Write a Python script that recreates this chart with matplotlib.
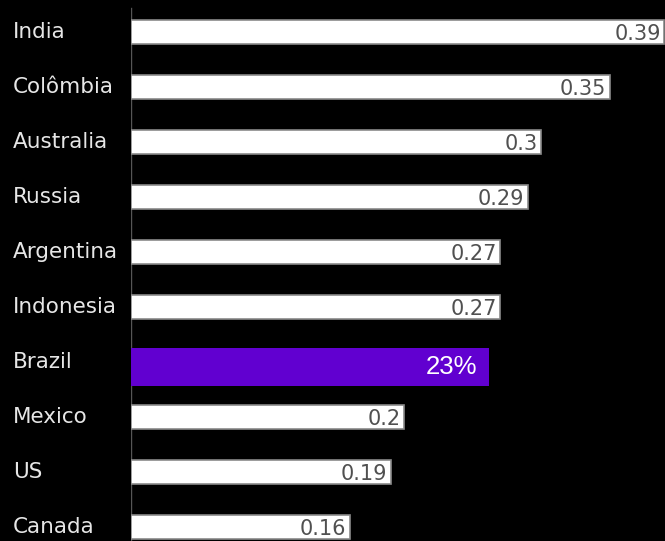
import matplotlib
matplotlib.use("Agg")
import matplotlib.pyplot as plt

countries = ["India", "Colômbia", "Australia", "Russia", "Argentina",
             "Indonesia", "Brazil", "Mexico", "US", "Canada"]
bar_len = [0.39, 0.35, 0.30, 0.29, 0.27, 0.27, 0.262, 0.20, 0.19, 0.16]
val_labels = ["0.39", "0.35", "0.3", "0.29", "0.27", "0.27", "23%", "0.2", "0.19", "0.16"]
highlight = "Brazil"

fig = plt.figure(figsize=(6.65, 5.41), dpi=100, facecolor="black")
ax = fig.add_axes([131/665, 0, 1 - 131/665, 1])
ax.set_facecolor("black")

for i, (c, v, lab) in enumerate(zip(countries, bar_len, val_labels)):
    if c == highlight:
        ax.barh(i + 0.09, v + 0.0022, left=-0.0022, height=0.69, color="#6100d0",
                edgecolor="none", zorder=3)
        ax.text(v - 0.009, i + 0.1, lab, ha="right", va="center",
                color="white", fontsize=18.5, family="Liberation Sans", zorder=4)
    else:
        ax.barh(i, v, height=0.42, color="white", edgecolor="#8a8a8a",
                linewidth=1.2, zorder=3)
        ax.text(v - 0.0025, i + 0.03, lab, ha="right", va="center",
                color="#505050", fontsize=15, family="DejaVu Sans", zorder=4)
    ax.text(-118/1369, i, c, ha="left", va="center", color="#e6e6e6",
            fontsize=15.5, family="DejaVu Sans", clip_on=False)

ax.axvline(0, ymin=0, ymax=0.985, color="#555555", linewidth=1, zorder=1)

ax.set_xlim(0, 0.3905)
ax.set_ylim(9.255, -0.582)
ax.axis("off")

fig.savefig("out.png", dpi=100, facecolor="black")
